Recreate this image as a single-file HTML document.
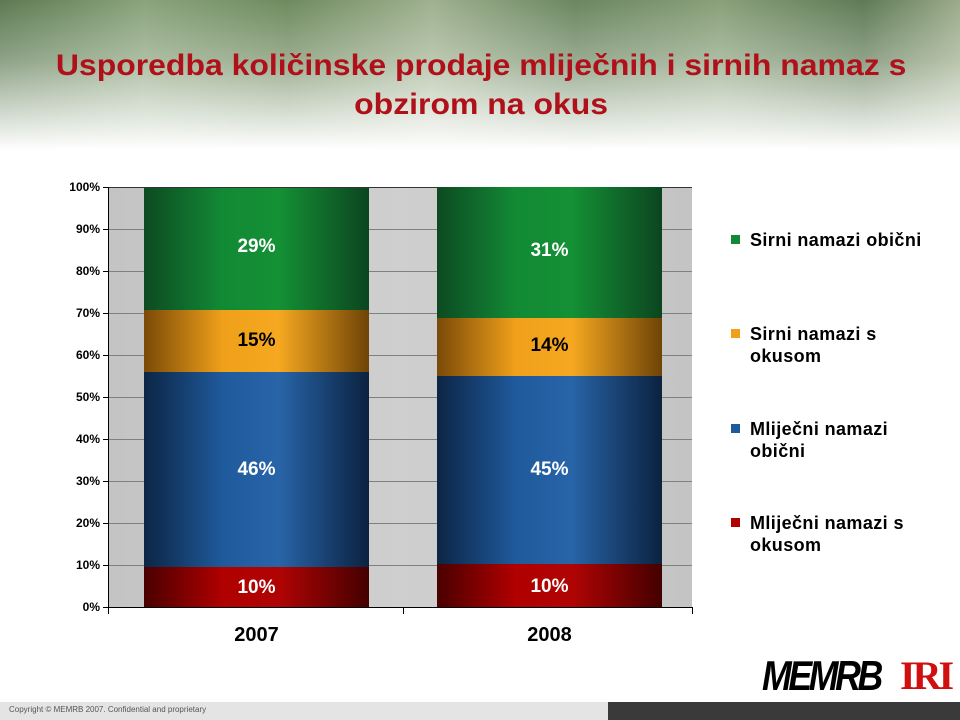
<!DOCTYPE html>
<html><head><meta charset="utf-8"><style>
body{margin:0;width:960px;height:720px;position:relative;overflow:hidden;background:#fff;font-family:"Liberation Sans",Arial,sans-serif}
.hdr{position:absolute;left:0;top:0;width:960px;height:150px;background:linear-gradient(to bottom,rgba(255,255,255,0) 0%,rgba(255,255,255,0.3) 40%,#fff 100%),linear-gradient(90deg,#5d7a52,#8aa37c 15%,#6f8a5f 30%,#9fb18f 45%,#6b8660 60%,#89a07a 75%,#5f7a55 90%,#9bab8a)}
.title{position:absolute;left:-20px;width:1000px;top:46px;text-align:center;color:#b0101a;font-size:30px;font-weight:bold;line-height:39px;transform:scaleX(1.065);transform-origin:483px 0}
.ax{position:absolute;font-weight:bold;font-size:12px;text-align:right;width:44px;left:56px}
.leg{position:absolute;left:731px;font-weight:bold;font-size:18px;line-height:22px;letter-spacing:0.4px}
.leg i{position:absolute;left:0;top:6px;width:9px;height:9px}
.leg span{position:absolute;left:19px;white-space:nowrap}
.lbl{position:absolute;font-weight:bold;font-size:19px;width:225px;text-align:center}
</style></head><body>
<div class="hdr"></div>
<div class="title">Usporedba količinske prodaje mliječnih i sirnih namaz s<br>obzirom na okus</div>
<svg style="position:absolute;left:0;top:0" width="960" height="720">
<defs>
<linearGradient id="bg" x1="0" x2="1"><stop offset="0" stop-color="#c4c4c4"/><stop offset="0.5" stop-color="#cfcfcf"/><stop offset="1" stop-color="#c4c4c4"/></linearGradient>
<linearGradient id="g" x1="0" x2="1"><stop offset="0" stop-color="#0d4a22"/><stop offset="0.35" stop-color="#128a35"/><stop offset="0.6" stop-color="#149035"/><stop offset="1" stop-color="#0c4520"/></linearGradient>
<linearGradient id="o" x1="0" x2="1"><stop offset="0" stop-color="#7a4a08"/><stop offset="0.35" stop-color="#f0a01a"/><stop offset="0.6" stop-color="#f5a820"/><stop offset="1" stop-color="#6e4306"/></linearGradient>
<linearGradient id="b" x1="0" x2="1"><stop offset="0" stop-color="#0c2545"/><stop offset="0.35" stop-color="#1f5a9c"/><stop offset="0.6" stop-color="#2864a8"/><stop offset="1" stop-color="#0b2240"/></linearGradient>
<linearGradient id="r" x1="0" x2="1"><stop offset="0" stop-color="#4a0000"/><stop offset="0.35" stop-color="#b00000"/><stop offset="0.6" stop-color="#b00404"/><stop offset="1" stop-color="#440000"/></linearGradient>
</defs>
<rect x="108" y="187" width="584" height="420" fill="url(#bg)"/>
<g stroke="#808080" stroke-width="1">
<line x1="108" x2="692" y1="229.5" y2="229.5"/><line x1="108" x2="692" y1="271.5" y2="271.5"/><line x1="108" x2="692" y1="313.5" y2="313.5"/><line x1="108" x2="692" y1="355.5" y2="355.5"/><line x1="108" x2="692" y1="397.5" y2="397.5"/><line x1="108" x2="692" y1="439.5" y2="439.5"/><line x1="108" x2="692" y1="481.5" y2="481.5"/><line x1="108" x2="692" y1="523.5" y2="523.5"/><line x1="108" x2="692" y1="565.5" y2="565.5"/>
</g>
<line x1="108" x2="692" y1="187.5" y2="187.5" stroke="#333"/>
<rect x="144" y="188" width="225" height="122" fill="url(#g)"/>
<rect x="144" y="310" width="225" height="62" fill="url(#o)"/>
<rect x="144" y="372" width="225" height="195" fill="url(#b)"/>
<rect x="144" y="567" width="225" height="40" fill="url(#r)"/>
<rect x="437" y="187" width="225" height="131" fill="url(#g)"/>
<rect x="437" y="318" width="225" height="58" fill="url(#o)"/>
<rect x="437" y="376" width="225" height="188" fill="url(#b)"/>
<rect x="437" y="564" width="225" height="43" fill="url(#r)"/>
<g stroke="#000" stroke-width="1">
<line x1="108.5" x2="108.5" y1="187" y2="607"/>
<line x1="108" x2="692" y1="607.5" y2="607.5"/>
<line x1="403.5" x2="403.5" y1="607" y2="614"/><line x1="692.5" x2="692.5" y1="607" y2="614"/><line x1="108.5" x2="108.5" y1="607" y2="614"/>
<line x1="103" x2="108" y1="187.5" y2="187.5"/><line x1="103" x2="108" y1="229.5" y2="229.5"/><line x1="103" x2="108" y1="271.5" y2="271.5"/><line x1="103" x2="108" y1="313.5" y2="313.5"/><line x1="103" x2="108" y1="355.5" y2="355.5"/><line x1="103" x2="108" y1="397.5" y2="397.5"/><line x1="103" x2="108" y1="439.5" y2="439.5"/><line x1="103" x2="108" y1="481.5" y2="481.5"/><line x1="103" x2="108" y1="523.5" y2="523.5"/><line x1="103" x2="108" y1="565.5" y2="565.5"/><line x1="103" x2="108" y1="607.5" y2="607.5"/>
</g>
</svg>
<div class="ax" style="top:180px">100%</div><div class="ax" style="top:222px">90%</div><div class="ax" style="top:264px">80%</div><div class="ax" style="top:306px">70%</div><div class="ax" style="top:348px">60%</div><div class="ax" style="top:390px">50%</div><div class="ax" style="top:432px">40%</div><div class="ax" style="top:474px">30%</div><div class="ax" style="top:516px">20%</div><div class="ax" style="top:558px">10%</div><div class="ax" style="top:600px">0%</div>
<div class="lbl" style="left:144px;top:236px;color:#fff">29%</div>
<div class="lbl" style="left:144px;top:330px;color:#000">15%</div>
<div class="lbl" style="left:144px;top:459px;color:#fff">46%</div>
<div class="lbl" style="left:144px;top:577px;color:#fff">10%</div>
<div class="lbl" style="left:437px;top:240px;color:#fff">31%</div>
<div class="lbl" style="left:437px;top:335px;color:#000">14%</div>
<div class="lbl" style="left:437px;top:459px;color:#fff">45%</div>
<div class="lbl" style="left:437px;top:576px;color:#fff">10%</div>
<div class="lbl" style="left:144px;top:624px;color:#000;font-size:20px">2007</div>
<div class="lbl" style="left:437px;top:624px;color:#000;font-size:20px">2008</div>
<div class="leg" style="top:229px"><i style="background:#128a35"></i><span>Sirni namazi obični</span></div>
<div class="leg" style="top:323px"><i style="background:#f0a01a"></i><span>Sirni namazi s<br>okusom</span></div>
<div class="leg" style="top:418px"><i style="background:#1f5a9c"></i><span>Mliječni namazi<br>obični</span></div>
<div class="leg" style="top:512px"><i style="background:#b00000"></i><span>Mliječni namazi s<br>okusom</span></div>
<div style="position:absolute;left:762px;top:652px;font-size:42px;font-weight:bold;font-style:italic;color:#000;letter-spacing:-4px;transform:scaleX(0.85);transform-origin:0 0">MEMRB</div>
<div style="position:absolute;left:900px;top:652px;font-size:40px;font-weight:bold;font-family:'Liberation Serif',serif;color:#d01010;letter-spacing:-3px">IRI</div>
<div style="position:absolute;left:0;top:702px;width:608px;height:18px;background:#e4e4e4"></div>
<div style="position:absolute;left:608px;top:702px;width:352px;height:18px;background:#3a3a3a"></div>
<div style="position:absolute;left:9px;top:705px;font-size:8px;color:#555">Copyright © MEMRB 2007. Confidential and proprietary</div>
</body></html>
